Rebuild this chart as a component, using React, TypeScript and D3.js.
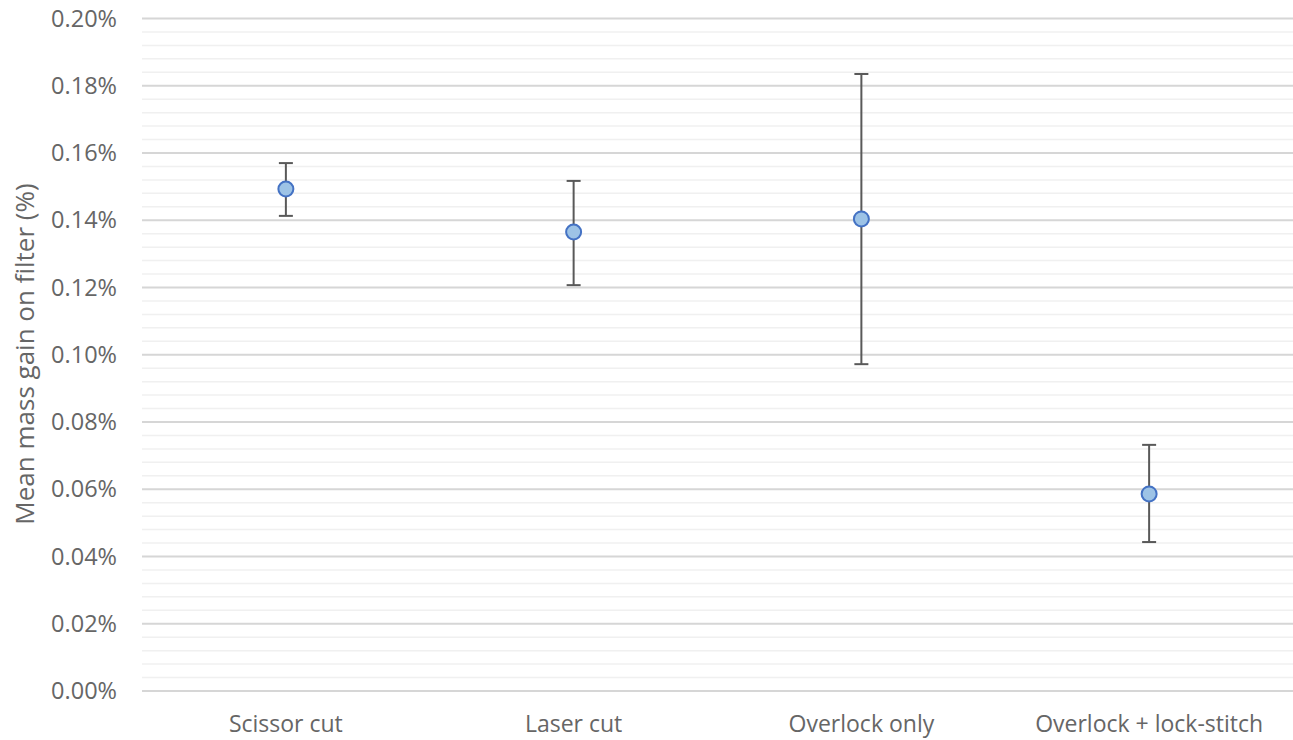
import React, { useRef, useEffect } from 'react';
import * as d3 from 'd3';

const categories = ['Scissor cut', 'Laser cut', 'Overlock only', 'Overlock + lock-stitch'];
const means = [0.1493, 0.1365, 0.1404, 0.0586];
const upper = [0.157, 0.1517, 0.1835, 0.0732];
const lower = [0.1413, 0.1207, 0.0972, 0.0443];
const yTicks = [0, 0.02, 0.04, 0.06, 0.08, 0.1, 0.12, 0.14, 0.16, 0.18, 0.2];

const W = 1293;
const H = 740;

const App = () => {
  const ref = useRef<SVGSVGElement>(null);
  useEffect(() => {
    const svg = d3.select(ref.current);
    svg.selectAll('*').remove();
    const font = '"Open Sans", sans-serif';

    const x = d3.scaleBand().domain(categories).range([142, 1293]);
    const y = d3.scaleLinear().domain([0, 0.2]).range([691, 18.5]);

    // minor gridlines
    const minor = d3.range(0, 0.2001, 0.004).filter((v) => Math.round(v * 1000) % 20 !== 0);
    svg.append('g').selectAll('line').data(minor).join('line')
      .attr('x1', 142).attr('x2', 1293)
      .attr('y1', (d) => y(d)).attr('y2', (d) => y(d))
      .attr('stroke', '#f0f0f0').attr('stroke-width', 1.5);

    // major gridlines
    svg.append('g').selectAll('line').data(yTicks).join('line')
      .attr('x1', 142).attr('x2', 1293)
      .attr('y1', (d) => y(d)).attr('y2', (d) => y(d))
      .attr('stroke', '#d6d6d6').attr('stroke-width', 1.8);

    // y tick labels
    svg.append('g').selectAll('text').data(yTicks).join('text')
      .attr('x', 117).attr('y', (d) => y(d))
      .attr('dy', '0.35em').attr('text-anchor', 'end')
      .style('font-family', font).style('font-size', '23.5px').style('fill', '#666666')
      .text((d) => d.toFixed(2) + '%');

    // x labels
    svg.append('g').selectAll('text').data(categories).join('text')
      .attr('x', (d) => x(d)! + x.bandwidth() / 2).attr('y', 732)
      .attr('text-anchor', 'middle')
      .style('font-family', font).style('font-size', '23px').style('fill', '#666666')
      .text((d) => d);

    // y axis title
    svg.append('text')
      .attr('transform', `translate(34,${(180 + 528) / 2}) rotate(-90)`)
      .attr('text-anchor', 'middle')
      .style('font-family', font).style('font-size', '26px').style('fill', '#666666')
      .text('Mean mass gain on filter (%)');

    const cx = (i: number) => x(categories[i])! + x.bandwidth() / 2;
    const idx = categories.map((_, i) => i);
    const g = svg.append('g');
    // error bars
    g.selectAll('line.bar').data(idx).join('line').attr('class', 'bar')
      .attr('x1', cx).attr('x2', cx)
      .attr('y1', (i) => y(upper[i])).attr('y2', (i) => y(lower[i]))
      .attr('stroke', '#595959').attr('stroke-width', 2);
    [upper, lower].forEach((arr) => {
      g.append('g').selectAll('line').data(idx).join('line')
        .attr('x1', (i) => cx(i) - 7).attr('x2', (i) => cx(i) + 7)
        .attr('y1', (i) => y(arr[i])).attr('y2', (i) => y(arr[i]))
        .attr('stroke', '#595959').attr('stroke-width', 2);
    });
    // markers
    g.selectAll('circle').data(idx).join('circle')
      .attr('cx', cx).attr('cy', (i) => y(means[i])).attr('r', 7.5)
      .attr('fill', '#9dc3e6').attr('stroke', '#4472c4').attr('stroke-width', 2);
  }, []);

  return <svg ref={ref} width={W} height={H} style={{ position: 'absolute', left: 0, top: 0, background: '#fff' }} />;
};

export default App;
